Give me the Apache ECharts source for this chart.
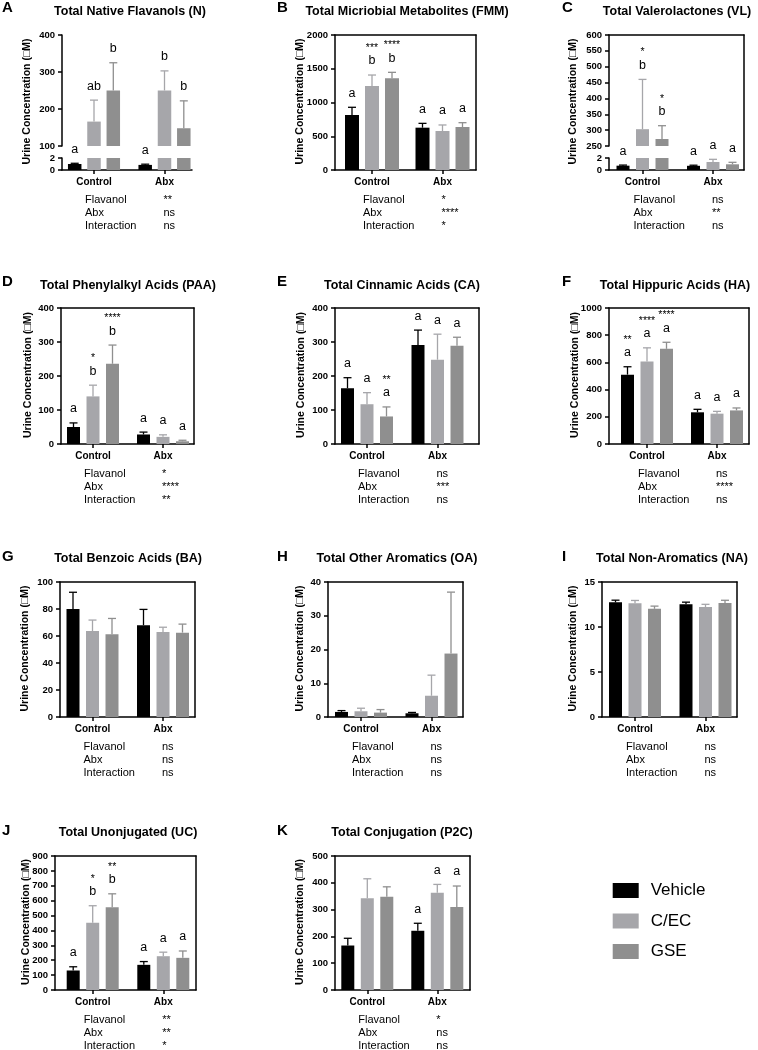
<!DOCTYPE html>
<html><head><meta charset="utf-8">
<script src="https://cdn.jsdelivr.net/npm/echarts@6/dist/echarts.min.js"></script>
<style>html,body{margin:0;padding:0;background:#fff}#c{width:758px;height:1050px}</style>
</head><body><div id="c"></div>
<script>
// ---------------- DATA ----------------
const groups = ['Control', 'Abx'];
const treatments = ['Vehicle', 'C/EC', 'GSE'];
const statNames = ['Flavanol', 'Abx', 'Interaction'];
const tags = ['A', 'B', 'C', 'D', 'E', 'F', 'G', 'H', 'I', 'J', 'K'];
const titles = ['Total Native Flavanols (N)', 'Total Micriobial Metabolites (FMM)', 'Total Valerolactones (VL)',
  'Total Phenylalkyl Acids (PAA)', 'Total Cinnamic Acids (CA)', 'Total Hippuric Acids (HA)',
  'Total Benzoic Acids (BA)', 'Total Other Aromatics (OA)', 'Total Non-Aromatics (NA)',
  'Total Unonjugated (UC)', 'Total Conjugation (P2C)'];
const yTitle = 'Urine Concentration (\u25A1M)';
const noMarks = [['', ''], ['', ''], ['', '']];

// rows = Vehicle, C/EC, GSE ; columns = Control, Abx ; upper = mean + error
const ticksN = [[100, 400, 100], [0, 2, 2]];
const meanN = [[1.0, 0.85], [166, 250], [250, 148]];
const upperN = [[1.12, 0.97], [224, 303], [325, 222]];
const lettersN = [['a', 'a'], ['ab', 'b'], ['b', 'b']];
const starsN = noMarks;
const statsN = ['**', 'ns', 'ns'];

const ticksFMM = [[0, 2000, 500]];
const meanFMM = [[815, 627], [1244, 578], [1358, 637]];
const upperFMM = [[929, 691], [1407, 667], [1447, 701]];
const lettersFMM = [['a', 'a'], ['b', 'a'], ['b', 'a']];
const starsFMM = [['', ''], ['***', ''], ['****', '']];
const statsFMM = ['*', '****', '*'];

const ticksVL = [[250, 600, 50], [0, 2, 2]];
const meanVL = [[0.72, 0.7], [303, 1.33], [272, 0.95]];
const upperVL = [[0.82, 0.8], [460, 1.78], [314, 1.28]];
const lettersVL = [['a', 'a'], ['b', 'a'], ['b', 'a']];
const starsVL = [['', ''], ['*', ''], ['*', '']];
const statsVL = ['ns', '**', 'ns'];

const ticksPAA = [[0, 400, 100]];
const meanPAA = [[50, 28], [140, 21], [236, 8]];
const upperPAA = [[62, 35], [173, 27], [291, 11]];
const lettersPAA = [['a', 'a'], ['b', 'a'], ['b', 'a']];
const starsPAA = [['', ''], ['*', ''], ['****', '']];
const statsPAA = ['*', '****', '**'];

const ticksCA = [[0, 400, 100]];
const meanCA = [[164, 291], [117, 248], [81, 289]];
const upperCA = [[195, 335], [151, 323], [109, 314]];
const lettersCA = [['a', 'a'], ['a', 'a'], ['a', 'a']];
const starsCA = [['', ''], ['', ''], ['**', '']];
const statsCA = ['ns', '***', 'ns'];

const ticksHA = [[0, 1000, 200]];
const meanHA = [[510, 233], [607, 223], [700, 247]];
const upperHA = [[568, 255], [707, 240], [748, 265]];
const lettersHA = [['a', 'a'], ['a', 'a'], ['a', 'a']];
const starsHA = [['**', ''], ['****', ''], ['****', '']];
const statsHA = ['ns', '****', 'ns'];

const ticksBA = [[0, 100, 20]];
const meanBA = [[80, 68], [63.7, 63], [61.3, 62.5]];
const upperBA = [[92.4, 79.7], [71.8, 66.5], [73, 68.8]];
const statsBA = ['ns', 'ns', 'ns'];

const ticksOA = [[0, 40, 10]];
const meanOA = [[1.5, 1.1], [1.7, 6.3], [1.3, 18.8]];
const upperOA = [[1.9, 1.35], [2.6, 12.4], [2.2, 37]];
const statsOA = ['ns', 'ns', 'ns'];

const ticksNA = [[0, 15, 5]];
const meanNA = [[12.74, 12.52], [12.65, 12.22], [12.02, 12.67]];
const upperNA = [[12.98, 12.76], [12.95, 12.52], [12.32, 12.97]];
const statsNA = ['ns', 'ns', 'ns'];

const ticksUC = [[0, 900, 100]];
const meanUC = [[131, 169], [452, 227], [555, 216]];
const upperUC = [[156, 191], [566, 254], [646, 262]];
const lettersUC = [['a', 'a'], ['b', 'a'], ['b', 'a']];
const starsUC = [['', ''], ['*', ''], ['**', '']];
const statsUC = ['**', '**', '*'];

const ticksP2C = [[0, 500, 100]];
const meanP2C = [[166, 221], [342, 363], [348, 310]];
const upperP2C = [[193, 249], [415, 394], [385, 388]];
const lettersP2C = [['', 'a'], ['', 'a'], ['', 'a']];
const statsP2C = ['*', 'ns', 'ns'];

const panels = [
  {ticks: ticksN, mean: meanN, upper: upperN, letters: lettersN, stars: starsN, stats: statsN},
  {ticks: ticksFMM, mean: meanFMM, upper: upperFMM, letters: lettersFMM, stars: starsFMM, stats: statsFMM},
  {ticks: ticksVL, mean: meanVL, upper: upperVL, letters: lettersVL, stars: starsVL, stats: statsVL},
  {ticks: ticksPAA, mean: meanPAA, upper: upperPAA, letters: lettersPAA, stars: starsPAA, stats: statsPAA},
  {ticks: ticksCA, mean: meanCA, upper: upperCA, letters: lettersCA, stars: starsCA, stats: statsCA},
  {ticks: ticksHA, mean: meanHA, upper: upperHA, letters: lettersHA, stars: starsHA, stats: statsHA},
  {ticks: ticksBA, mean: meanBA, upper: upperBA, letters: noMarks, stars: noMarks, stats: statsBA},
  {ticks: ticksOA, mean: meanOA, upper: upperOA, letters: noMarks, stars: noMarks, stats: statsOA},
  {ticks: ticksNA, mean: meanNA, upper: upperNA, letters: noMarks, stars: noMarks, stats: statsNA},
  {ticks: ticksUC, mean: meanUC, upper: upperUC, letters: lettersUC, stars: starsUC, stats: statsUC},
  {ticks: ticksP2C, mean: meanP2C, upper: upperP2C, letters: lettersP2C, stars: noMarks, stats: statsP2C}
];

// ---------------- LAYOUT (pixels) ----------------
const layout = [
  {x0: 62, x1: 192, c1: 94, c2: 164.5, y0: 35, y1: 170, brk: [146, 158], box: false, bw: 13.5, sp: 19.3, t: [130, 12], yt: 27},
  {x0: 335, x1: 476, c1: 372, c2: 442.5, y0: 35, y1: 170, box: true, bw: 14, sp: 20, t: [407, 12], yt: 300},
  {x0: 609, x1: 744, c1: 642.5, c2: 713, y0: 35, y1: 170, brk: [146, 158], box: true, bw: 13, sp: 19.5, t: [677, 12], yt: 573},
  {x0: 61, x1: 194, c1: 93, c2: 163, y0: 308, y1: 444, box: true, bw: 13, sp: 19.5, t: [128, 286], yt: 28},
  {x0: 335, x1: 479, c1: 367, c2: 437.5, y0: 308, y1: 444, box: true, bw: 13, sp: 19.5, t: [402, 286], yt: 301.5},
  {x0: 609, x1: 749, c1: 647, c2: 717, y0: 308, y1: 444, box: true, bw: 13, sp: 19.5, t: [675, 286], yt: 575},
  {x0: 60, x1: 195, c1: 92.5, c2: 163, y0: 582, y1: 717, box: true, bw: 13, sp: 19.5, t: [128, 559], yt: 25},
  {x0: 328, x1: 463, c1: 361, c2: 431.5, y0: 582, y1: 717, box: true, bw: 13, sp: 19.5, t: [397, 559], yt: 300},
  {x0: 602, x1: 737, c1: 635, c2: 705.5, y0: 582, y1: 717, box: true, bw: 13, sp: 19.5, t: [672, 559], yt: 573},
  {x0: 55, x1: 196, c1: 92.7, c2: 163.3, y0: 856, y1: 990, box: true, bw: 13, sp: 19.5, t: [128, 833], yt: 26.5},
  {x0: 335, x1: 470, c1: 367.3, c2: 437.3, y0: 856, y1: 990, box: true, bw: 13, sp: 19.5, t: [402, 833], yt: 300}
];
const tagX = [2, 277, 562];
const tagY = [8, 282, 557, 831];

const FONT = '"Liberation Sans", Arial, "DejaVu Sans", sans-serif';
const COLORS = ['#000000', '#a6a6aa', '#8f8f8f'];
const AX = {color: '#000', width: 1.5};

const chart = echarts.init(document.getElementById('c'), null, {renderer: 'canvas', width: 758, height: 1050});
const option = {
  animation: false, backgroundColor: '#ffffff',
  grid: [], xAxis: [], yAxis: [], series: [],
  graphic: {elements: []},
  legend: {
    show: true, orient: 'vertical', left: 612.7, top: 882, padding: 0,
    itemWidth: 26, itemHeight: 15, itemGap: 13.5, icon: 'rect', selectedMode: false,
    data: treatments,
    textStyle: {fontFamily: FONT, fontSize: 17, color: '#000', padding: [0, 0, 0, 7]}
  }
};
const G = option.graphic.elements;
function addText(x, y, text, font, align, rot) {
  const el = {type: 'text', x: x, y: y, silent: true,
    style: {text: text, font: font, fill: '#000', align: align, verticalAlign: 'middle', textAlign: align, textVerticalAlign: 'middle'}};
  if (rot) el.rotation = rot;
  G.push(el);
}

panels.forEach(function (P, pi) {
  const L = layout[pi];
  const span = L.c2 - L.c1;
  const xMin = -(L.c1 - L.x0) / span, xMax = 1 + (L.x1 - L.c2) / span;
  const segs = L.brk
    ? [{top: L.y0, bot: L.brk[0], r: P.ticks[0], lower: false}, {top: L.brk[1], bot: L.y1, r: P.ticks[1], lower: true}]
    : [{top: L.y0, bot: L.y1, r: P.ticks[0], lower: true}];
  const loMax = L.brk ? P.ticks[1][1] : Infinity;
  segs.forEach(function (sg) {
    const gi = option.grid.length;
    option.grid.push({left: L.x0, top: sg.top, width: L.x1 - L.x0, height: sg.bot - sg.top});
    const xi = option.xAxis.length;
    option.xAxis.push({
      gridIndex: gi, type: 'value', position: 'bottom', min: xMin, max: xMax, show: sg.lower,
      axisLine: {show: true, onZero: false, lineStyle: AX},
      axisTick: {show: true, customValues: [0, 1], length: 4, lineStyle: AX},
      axisLabel: {show: true, customValues: [0, 1], formatter: function (v) { return groups[Math.round(v)] || ''; },
        margin: 7.5, color: '#000', fontFamily: FONT, fontWeight: 'bold', fontSize: 10},
      splitLine: {show: false}
    });
    const yi = option.yAxis.length;
    option.yAxis.push({
      gridIndex: gi, type: 'value', position: 'left', min: sg.r[0], max: sg.r[1], interval: sg.r[2],
      axisLine: {show: true, onZero: false, lineStyle: AX},
      axisTick: {show: true, length: 4, lineStyle: AX},
      axisLabel: {margin: 7, color: '#000', fontFamily: FONT, fontWeight: 'bold', fontSize: 9.5,
        formatter: function (v) { return String(v); }},
      splitLine: {show: false}
    });
    const segLo = sg.r[0];
    treatments.forEach(function (tn, t) {
      option.series.push({
        type: 'bar', name: tn, xAxisIndex: xi, yAxisIndex: yi, barWidth: L.bw,
        barGap: ((L.sp - L.bw) / L.bw * 100) + '%', clip: true, silent: true,
        itemStyle: {color: COLORS[t]},
        data: groups.map(function (g, k) { return [k, P.mean[t][k]]; })
      });
    });
    const items = [];
    treatments.forEach(function (tn, t) {
      groups.forEach(function (g, k) {
        const up = P.upper[t][k];
        const inSeg = L.brk ? (sg.lower ? up <= loMax : up > loMax) : true;
        if (inSeg) items.push({k: k, t: t, mean: P.mean[t][k], up: up, let: P.letters[t][k], star: P.stars[t][k]});
      });
    });
    option.series.push({
      type: 'custom', xAxisIndex: xi, yAxisIndex: yi, silent: true, clip: false, z: 3,
      data: items.map(function (it) { return [it.k, it.up, it.mean, it.t]; }),
      encode: {x: 0, y: 1},
      renderItem: function (params, api) {
        const it = items[params.dataIndex];
        const base = api.coord([it.k, Math.max(it.mean, segLo)]);
        const tp = api.coord([it.k, it.up]);
        const cx = base[0] + (it.t - 1) * L.sp;
        const col = COLORS[it.t];
        const ch = [
          {type: 'line', shape: {x1: cx, y1: base[1], x2: cx, y2: tp[1]}, style: {stroke: col, lineWidth: 1.3}},
          {type: 'line', shape: {x1: cx - 4, y1: tp[1], x2: cx + 4, y2: tp[1]}, style: {stroke: col, lineWidth: 1.3}}
        ];
        if (it.let) ch.push({type: 'text', x: cx, y: tp[1] - 14, style: {text: it.let, font: '12.5px ' + FONT, fill: '#000',
          align: 'center', verticalAlign: 'middle', textAlign: 'center', textVerticalAlign: 'middle'}});
        if (it.star) ch.push({type: 'text', x: cx, y: tp[1] - 27, style: {text: it.star, font: '10.5px ' + FONT, fill: '#000',
          align: 'center', verticalAlign: 'middle', textAlign: 'center', textVerticalAlign: 'middle'}});
        return {type: 'group', children: ch};
      }
    });
  });
  if (L.box) {
    const gi = option.grid.length;
    option.grid.push({left: L.x0, top: L.y0, width: L.x1 - L.x0, height: L.y1 - L.y0});
    option.xAxis.push({gridIndex: gi, type: 'value', position: 'top', min: 0, max: 1,
      axisLine: {show: true, onZero: false, lineStyle: AX}, axisTick: {show: false}, axisLabel: {show: false}, splitLine: {show: false}});
    option.yAxis.push({gridIndex: gi, type: 'value', position: 'right', min: 0, max: 1,
      axisLine: {show: true, onZero: false, lineStyle: AX}, axisTick: {show: false}, axisLabel: {show: false}, splitLine: {show: false}});
  }
  // texts
  addText(tagX[pi % 3], tagY[Math.floor(pi / 3)], tags[pi], 'bold 15px ' + FONT, 'left');
  addText(L.t[0], L.t[1], titles[pi], 'bold 12.5px ' + FONT, 'center');
  addText(L.yt, (L.y0 + L.y1) / 2 - 1, yTitle, 'bold 10.5px ' + FONT, 'center', Math.PI / 2);
  statNames.forEach(function (s, r) {
    const y = L.y1 + 29.7 + 13.35 * r;
    addText(L.c1 - 9, y, s, '11px ' + FONT, 'left');
    addText(L.c2 - 1, y, P.stats[r], '11px ' + FONT, 'left');
  });
});

chart.setOption(option);
</script>
</body></html>
